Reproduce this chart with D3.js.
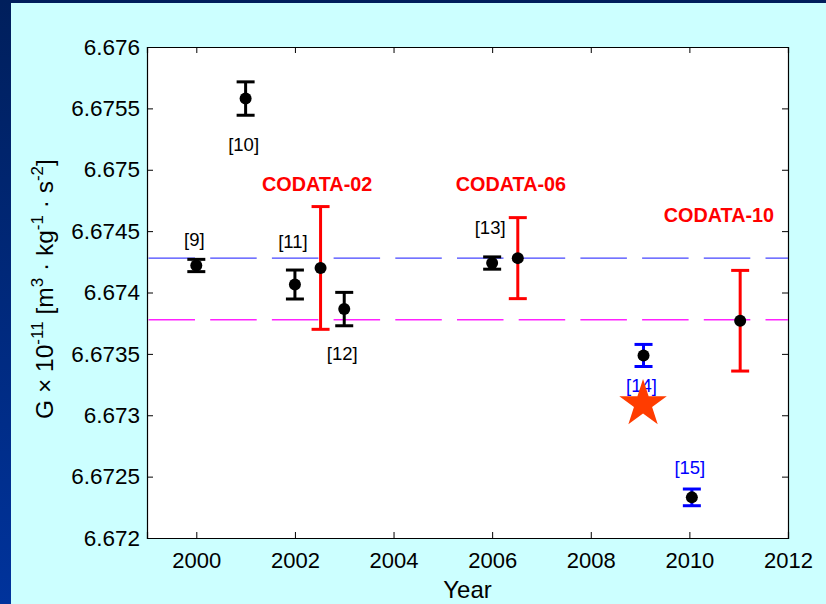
<!DOCTYPE html>
<html>
<head>
<meta charset="utf-8">
<script src="https://cdn.jsdelivr.net/npm/d3@7"></script>
<style>
  body { margin: 0; padding: 0; }
  text { font-family: "Liberation Sans", Arial, sans-serif; }
</style>
</head>
<body>
<svg id="chart" width="826" height="604"></svg>
<script>
// measurements (black points)
var years = [2000, 2001, 2002, 2003, 2006, 2009.07, 2010.05]
var values = [6.67422, 6.67558, 6.674065, 6.673865, 6.67424, 6.673487, 6.672331]
var errs = [0.00005, 0.000136, 0.000118, 0.000136, 0.00005, 0.00009, 0.000068]
var refs = ['[9]', '[10]', '[11]', '[12]', '[13]', '[14]', '[15]']
var refGroup = [0, 0, 0, 0, 0, 1, 1] // 1 = blue ones
var refLabelY = [6.674379, 6.675153, 6.674362, 6.67345, 6.674477, 6.673189, 6.672521]

// CODATA recommended values
var codataYears = [2002.52, 2006.52, 2011.03]
var codataValues = [6.6742, 6.67428, 6.67377]
var codataErrs = [0.0005, 0.00033, 0.00041]
var codataNames = ['CODATA-02', 'CODATA-06', 'CODATA-10']
var codataLabelX = [2002.45, 2006.38, 2010.6]
var codataLabelY = [6.674827, 6.674827, 6.674574]

// reference lines
var hLines = [6.67428, 6.673778]

// the star
var starYear = 2009.06
var starValue = 6.673092

var xTicks = [2000, 2002, 2004, 2006, 2008, 2010, 2012]
var yTicks = [6.672, 6.6725, 6.673, 6.6735, 6.674, 6.6745, 6.675, 6.6755, 6.676]

var svg = d3.select('#chart')

var defs = svg.append('defs')
var grad = defs.append('linearGradient')
    .attr('id', 'bg')
    .attr('x1', 0).attr('y1', 0).attr('x2', 0).attr('y2', 1)
grad.append('stop').attr('offset', '0%').attr('stop-color', '#001f5c')
grad.append('stop').attr('offset', '100%').attr('stop-color', '#00339c')

svg.append('rect').attr('width', 826).attr('height', 604).attr('fill', 'url(#bg)')
svg.append('rect').attr('x', 11).attr('y', 3).attr('width', 815).attr('height', 601).attr('fill', '#ccffff')

var pLeft = 147, pRight = 788, pTop = 47, pBottom = 538

var x = d3.scaleLinear().domain([1999, 2012]).range([pLeft, pRight])
var y = d3.scaleLinear().domain([6.672, 6.676]).range([pBottom, pTop])

svg.append('rect')
    .attr('x', pLeft).attr('y', pTop)
    .attr('width', pRight - pLeft).attr('height', pBottom - pTop)
    .attr('fill', 'white')

var yfmt = function(d) { return d3.format('.4f')(d).replace(/0+$/, '') }

// axes with inward ticks, mirrored on top/right
var gx = svg.append('g').attr('transform', 'translate(0,' + pBottom + ')')
    .call(d3.axisBottom(x).tickValues(xTicks).tickSize(-6).tickPadding(14).tickFormat(d3.format('d')))
var gxt = svg.append('g').attr('transform', 'translate(0,' + pTop + ')')
    .call(d3.axisTop(x).tickValues(xTicks).tickSize(-6).tickFormat(''))
var gy = svg.append('g').attr('transform', 'translate(' + pLeft + ',0)')
    .call(d3.axisLeft(y).tickValues(yTicks).tickSize(-6).tickPadding(7).tickFormat(yfmt))
var gyr = svg.append('g').attr('transform', 'translate(' + pRight + ',0)')
    .call(d3.axisRight(y).tickValues(yTicks).tickSize(-6).tickFormat(''))

svg.selectAll('.domain').attr('stroke', 'black').attr('stroke-width', 1.2)
svg.selectAll('.tick line').attr('stroke', 'black')
gx.selectAll('text').attr('font-size', 22).attr('fill', 'black')
gy.selectAll('text').attr('font-size', 22.5).attr('fill', 'black')

// dashed lines
svg.selectAll('.hline')
    .data(hLines)
    .join('line')
    .attr('x1', pLeft + 1.5).attr('x2', pRight)
    .attr('y1', function(d) { return y(d) })
    .attr('y2', function(d) { return y(d) })
    .attr('stroke', function(d, i) { return i == 0 ? '#4646ff' : '#ff22ff' })
    .attr('stroke-width', 1.3)
    .attr('stroke-dasharray', '46.5,15.2')

// error bars
function errorBars(cls, xs, vs, es, color) {
    var g = svg.append('g').attr('class', cls)
    xs.forEach(function(xx, i) {
        var c = typeof color == 'function' ? color(i) : color
        var cx = x(xx), y1 = y(vs[i] + es[i]), y2 = y(vs[i] - es[i])
        g.append('line').attr('x1', cx).attr('x2', cx).attr('y1', y1).attr('y2', y2)
            .attr('stroke', c).attr('stroke-width', 3)
        g.append('line').attr('x1', cx - 9).attr('x2', cx + 9).attr('y1', y1).attr('y2', y1)
            .attr('stroke', c).attr('stroke-width', 3)
        g.append('line').attr('x1', cx - 9).attr('x2', cx + 9).attr('y1', y2).attr('y2', y2)
            .attr('stroke', c).attr('stroke-width', 3)
    })
}

errorBars('meas', years, values, errs, function(i) { return refGroup[i] ? '#0000ff' : 'black' })
errorBars('codata', codataYears, codataValues, codataErrs, '#ff0000')

svg.selectAll('.dot')
    .data(years.concat(codataYears))
    .join('circle')
    .attr('class', 'dot')
    .attr('r', 6)
    .attr('cx', function(d) { return x(d) })
    .attr('cy', function(d, i) {
        return y(i < years.length ? values[i] : codataValues[i - years.length])
    })
    .attr('fill', 'black')

// labels
svg.selectAll('.ref')
    .data(refs)
    .join('text')
    .attr('class', 'ref')
    .attr('x', function(d, i) { return x(years[i]) - 2 })
    .attr('y', function(d, i) { return y(refLabelY[i]) })
    .attr('text-anchor', 'middle')
    .attr('font-size', 18.5)
    .attr('fill', function(d, i) { return refGroup[i] ? '#0000ff' : 'black' })
    .text(function(d) { return d })

svg.selectAll('.cod')
    .data(codataNames)
    .join('text')
    .attr('class', 'cod')
    .attr('x', function(d, i) { return x(codataLabelX[i]) })
    .attr('y', function(d, i) { return y(codataLabelY[i]) })
    .attr('text-anchor', 'middle')
    .attr('font-size', 19.8)
    .attr('font-weight', 'bold')
    .attr('fill', '#ff0000')
    .text(function(d) { return d })

// star
svg.append('path')
    .attr('d', d3.symbol().type(d3.symbolStar).size(700)())
    .attr('transform', 'translate(' + x(starYear) + ',' + y(starValue) + ')')
    .attr('fill', '#ff3c00')

// axis titles
svg.append('text')
    .attr('x', (pLeft + pRight) / 2).attr('y', 598)
    .attr('text-anchor', 'middle')
    .attr('font-size', 24)
    .text('Year')

var yl = svg.append('text')
    .attr('transform', 'translate(53,' + 289 + ') rotate(-90)')
    .attr('text-anchor', 'middle')
    .attr('font-size', 24.5)
yl.append('tspan').text('G \u00d7 10')
yl.append('tspan').attr('dy', -10).attr('font-size', 17).text('-11')
yl.append('tspan').attr('dy', 10).text(' [m')
yl.append('tspan').attr('dy', -10).attr('font-size', 17).text('3')
yl.append('tspan').attr('dy', 10).text(' \u00b7 kg')
yl.append('tspan').attr('dy', -10).attr('font-size', 17).text('-1')
yl.append('tspan').attr('dy', 10).text(' \u00b7 s')
yl.append('tspan').attr('dy', -10).attr('font-size', 17).text('-2')
yl.append('tspan').attr('dy', 10).text(']')
</script>
</body>
</html>
